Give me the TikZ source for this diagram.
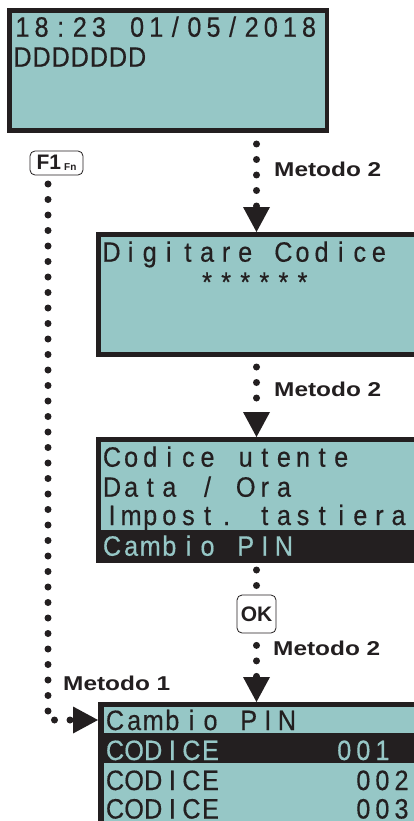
\documentclass[tikz,border=0pt]{standalone}
\usepackage{fontspec}
\usetikzlibrary{arrows.meta,calc}
\newfontfamily\lcdfont[FakeStretch=0.9,FakeBold=0.4]{Liberation Sans}
\newfontfamily\lblfont[FakeStretch=1.22]{Liberation Sans}
\newfontfamily\keyfont{Liberation Sans}
\definecolor{lcdteal}{HTML}{96C7C6}
\definecolor{lcdink}{HTML}{231F20}
\newlength\lcdcell
\setlength\lcdcell{19.1pt}
\ExplSyntaxOn
\NewDocumentCommand \lcdline { m }
  { \tl_map_inline:nn { #1 } { \makebox[\lcdcell][c]{##1} } }
\ExplSyntaxOff
\tikzset{
  frame/.style={rectangle, fill=lcdink, draw=none, inner sep=0pt, outer sep=0pt},
  screen/.style={rectangle, fill=lcdteal, draw=none, inner sep=0pt, outer sep=0pt},
  lcdtext/.style={anchor=base west, inner sep=0pt, outer sep=0pt, text=lcdink,
    font=\lcdfont\fontsize{28pt}{28pt}\selectfont},
  lcdsel/.style={lcdtext, text=lcdteal},
  lbl/.style={anchor=base west, inner sep=0pt, text=lcdink,
    font=\lblfont\bfseries\fontsize{20pt}{20pt}\selectfont},
  keybox/.style={rectangle, rounded corners=5pt, draw=lcdink, line width=0.8pt,
    fill=white, inner sep=0pt, text=lcdink, font=\keyfont\bfseries},
  dotline/.style={draw=lcdink, line width=7pt, line cap=round,
    dash pattern=on 0pt off 15.5pt,
    -{Triangle[width=27pt,length=25pt,line width=0pt]}},
  dotplain/.style={draw=lcdink, line width=7pt, line cap=round,
    dash pattern=on 0pt off 15.5pt}
}
\begin{document}
\begin{tikzpicture}[x=1pt,y=-1pt]
\useasboundingbox (0,0) rectangle (414,821);
\clip (0,0) rectangle (414,821);
\fill[white] (0,0) rectangle (414,821);

% Box 1
\node[frame, minimum width=322pt, minimum height=125pt] (b1) at (168,70.5) {};
\node[screen, minimum width=313pt, minimum height=115pt] (s1) at (168.5,70.5) {};
\node[lcdtext] (t11) at (13,36.7) {\lcdline{18:23~01/05/2018}};
\node[lcdtext] (t12) at (13,66.7) {\lcdline{DDDDDDD}};

% Box 2
\node[frame, minimum width=330pt, minimum height=125pt] (b2) at (261,294.5) {};
\node[screen, minimum width=320pt, minimum height=115pt] (s2) at (261,294.5) {};
\node[lcdtext] (t21) at (102,261.7) {\lcdline{Digitare~Codice}};
\node[lcdtext] (t22) at (102,291.7) {\lcdline{~~~~~******}};

% Box 3
\node[frame, minimum width=330pt, minimum height=126pt] (b3) at (261,500) {};
\node[screen, minimum width=320pt, minimum height=88pt] (s3) at (261,486) {};
\node[lcdtext] (t31) at (102.5,466.7) {\lcdline{Codice~utente}};
\node[lcdtext] (t32) at (102.5,496.7) {\lcdline{Data~/~Ora}};
\node[lcdtext] (t33) at (102.5,525) {\lcdline{Impost.~tastiera}};
\node[lcdsel] (t34) at (102.5,555.7) {\lcdline{Cambio~PIN}};

% Box 4
\node[frame, minimum width=332pt, minimum height=128pt] (b4) at (264,766) {};
\node[screen, minimum width=321pt, minimum height=26pt] (rA) at (264.5,720) {};
\node[screen, minimum width=321pt, minimum height=67pt] (rC) at (264.5,796.5) {};
\node[lcdtext] (t41) at (105.5,730) {\lcdline{Cambio~PIN}};
\node[lcdsel] (t42) at (105.5,760) {\lcdline{CODICE~~~~~~001}};
\node[lcdtext] (t43) at (105.5,790) {\lcdline{CODICE~~~~~~~002}};
\node[lcdtext] (t44) at (105.5,818.5) {\lcdline{CODICE~~~~~~~003}};

% Keys
\node[keybox, minimum width=39pt, minimum height=38pt] (ok) at (256.5,614)
  {\fontsize{21pt}{21pt}\selectfont OK};
\node[keybox, minimum width=53pt, minimum height=24pt] (f1) at (56.5,163)
  {\fontsize{21pt}{21pt}\selectfont F1\hspace{3pt}\raisebox{-0.5pt}{\fontsize{10pt}{10pt}\selectfont Fn}};

% Labels
\node[lbl] (m21) at (274,176) {Metodo 2};
\node[lbl] (m22) at (274,396) {Metodo 2};
\node[lbl] (m23) at (273,655) {Metodo 2};
\node[lbl] (m1) at (63,690) {Metodo 1};

% Connectors
\draw[dotline, shorten <=11pt] (b1.south -| ok.north) -- (b2.north -| ok.north);
\draw[dotline, shorten <=10pt] (b2.south -| ok.north) -- (b3.north -| ok.north);
\draw[dotplain, shorten <=7pt, shorten >=6pt] (b3.south -| ok.north) -- (ok.north);
\draw[dotline, shorten <=12pt] (ok.south) -- (b4.north -| ok.south);
\coordinate (lstart) at (48,184);
\draw[dotline] (lstart) |- (rA.west -| b4.west);
\end{tikzpicture}
\end{document}
